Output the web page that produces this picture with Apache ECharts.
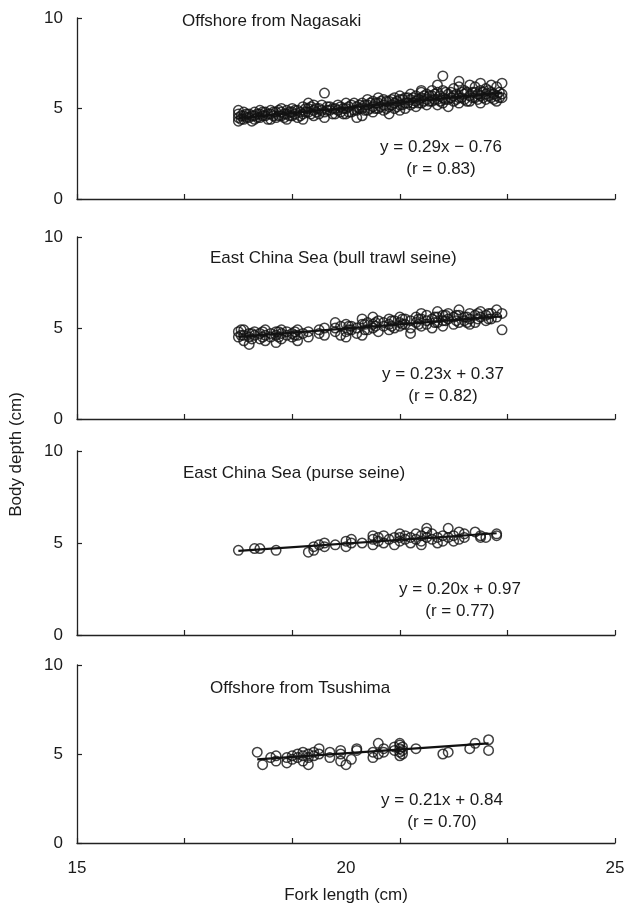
<!DOCTYPE html>
<html>
<head>
<meta charset="utf-8">
<script src="https://cdn.jsdelivr.net/npm/echarts@6/dist/echarts.min.js"></script>
<style>
html,body{margin:0;padding:0;background:#fff;}
#chart{width:628px;height:909px;}
</style>
</head>
<body>
<div id="chart"></div>
<script>
// ---- Data ----
const panelTitles = ['Offshore from Nagasaki', 'East China Sea (bull trawl seine)', 'East China Sea (purse seine)', 'Offshore from Tsushima'];
const equations = ['y = 0.29x \u2212 0.76', 'y = 0.23x + 0.37', 'y = 0.20x + 0.97', 'y = 0.21x + 0.84'];
const rValues = ['(r = 0.83)', '(r = 0.82)', '(r = 0.77)', '(r = 0.70)'];
const slopes = [0.29, 0.23, 0.20, 0.21];
const intercepts = [-0.76, 0.37, 0.97, 0.84];
const xTickLabels = [15, 20, 25];
const yTickLabels = [0, 5, 10];

// Fork length values and body depths observed at each length
const nagasakiX = [18.0,18.05,18.1,18.15,18.2,18.25,18.3,18.35,18.4,18.45,18.5,18.55,18.6,18.65,18.7,18.75,18.8,18.85,18.9,18.95,19.0,19.05,19.1,19.15,19.2,19.25,19.3,19.35,19.4,19.45,19.5,19.55,19.6,19.65,19.7,19.75,19.8,19.85,19.9,19.95,20.0,20.05,20.1,20.15,20.2,20.25,20.3,20.35,20.4,20.45,20.5,20.55,20.6,20.65,20.7,20.75,20.8,20.85,20.9,20.95,21.0,21.05,21.1,21.15,21.2,21.25,21.3,21.35,21.4,21.45,21.5,21.55,21.6,21.65,21.7,21.75,21.8,21.85,21.9,21.95,22.0,22.05,22.1,22.15,22.2,22.25,22.3,22.35,22.4,22.45,22.5,22.55,22.6,22.65,22.7,22.75,22.8,22.85,22.9];
const nagasakiY = [[4.3,4.5,4.7,4.9],[4.4,4.6],[4.4,4.6,4.8],[4.5,4.7],[4.5,4.7],[4.3,4.6],[4.4,4.6,4.8],[4.5,4.7],[4.5,4.7,4.9],[4.6,4.8],[4.6,4.8],[4.4,4.7],[4.4,4.7,4.9],[4.6,4.8],[4.5,4.8],[4.6,4.9],[4.6,4.8,5.0],[4.5,4.7],[4.4,4.7,4.9],[4.6,4.8],[4.6,4.8,5.0],[4.7,4.9],[4.5,4.9],[4.6,4.8],[4.4,4.7,5.1],[4.8,5.0],[4.8,5.0,5.3],[4.7,5.1],[4.6,4.9,5.2],[4.8,5.0],[4.7,5.0],[4.9,5.2],[4.5,4.8,5.85],[4.9,5.1],[4.9,5.1],[4.7,5.0],[4.7,5.0],[4.9,5.2],[4.8,5.1],[4.7,5.0],[4.7,5.0,5.3],[4.8,5.1],[4.8,5.2],[4.9,5.3],[4.5,4.9,5.1],[5.0,5.2],[4.6,5.0,5.3],[4.9,5.2],[4.9,5.2,5.5],[5.0,5.3],[4.8,5.1,5.4],[5.0,5.3],[5.0,5.3,5.6],[5.1,5.4],[4.9,5.2,5.5],[5.0,5.4],[4.7,5.1,5.4],[5.2,5.5],[5.0,5.3,5.6],[5.1,5.4],[4.9,5.2,5.5,5.7],[5.2,5.5],[5.0,5.3,5.6],[5.3,5.6],[5.2,5.5,5.8],[5.3,5.6],[5.1,5.4,5.7],[5.3,5.5],[5.3,5.6,5.9,6.0],[5.4,5.7],[5.2,5.5,5.8],[5.4,5.7],[5.4,5.7,6.0],[5.5,5.8],[5.2,5.5,5.9,6.3],[5.4,5.7],[5.3,5.6,6.0,6.8],[5.5,5.9],[5.1,5.5,5.8],[5.6,5.9],[5.4,5.7,6.1],[5.5,5.8],[5.3,5.6,6.2,6.5],[5.6,5.9],[5.5,5.8,6.0],[5.4,5.9],[5.4,5.7,6.3],[5.6,5.9],[5.6,5.9,6.2],[5.5,5.8],[5.3,5.7,6.0,6.4],[5.6,5.9],[5.5,5.8,6.1],[5.7,6.0],[5.6,5.9,6.3],[5.5,5.8],[5.4,5.7,6.2],[5.6,5.9],[5.6,5.8,6.4]];

const bullTrawlX = [18.0,18.05,18.1,18.2,18.25,18.3,18.4,18.45,18.5,18.6,18.7,18.75,18.8,18.9,19.0,19.05,19.1,19.2,19.3,19.5,19.6,19.8,19.9,20.0,20.05,20.1,20.2,20.3,20.35,20.4,20.5,20.55,20.6,20.7,20.8,20.85,20.9,21.0,21.05,21.1,21.2,21.3,21.35,21.4,21.5,21.6,21.65,21.7,21.8,21.85,21.9,22.0,22.05,22.1,22.2,22.25,22.3,22.4,22.45,22.5,22.6,22.65,22.7,22.8,22.9];
const bullTrawlY = [[4.5,4.8],[4.6,4.9],[4.3,4.6,4.9],[4.1,4.5,4.7],[4.4,4.7],[4.6,4.8],[4.4,4.7],[4.5,4.8],[4.3,4.6,4.9],[4.5,4.7],[4.2,4.6,4.8],[4.5,4.8],[4.4,4.7,4.9],[4.6,4.8],[4.5,4.7],[4.6,4.8],[4.3,4.6,4.9],[4.7],[4.5,4.8],[4.7,4.9],[4.6,5.0],[4.8,5.0,5.3],[4.6,5.1],[4.5,4.8,5.2],[4.9,5.1],[4.9,5.1],[4.7,5.0],[4.6,5.2,5.5],[4.9,5.2],[4.9,5.3],[5.0,5.2,5.6],[5.1,5.3],[4.8,5.4],[5.1,5.3],[4.9,5.2,5.5],[5.1,5.4],[5.0,5.4],[5.1,5.3,5.6],[5.2,5.5],[5.2,5.5],[4.7,5.0,5.4],[5.3,5.6],[5.2,5.5],[5.1,5.5,5.8],[5.2,5.4,5.7],[5.0,5.5],[5.3,5.6],[5.3,5.6,5.9],[5.1,5.4,5.7],[5.4,5.7],[5.5,5.8],[5.2,5.6],[5.4,5.7],[5.3,5.7,6.0],[5.4,5.6],[5.3,5.6],[5.2,5.5,5.8],[5.3,5.7],[5.5,5.8],[5.6,5.9],[5.4,5.7],[5.5,5.8],[5.5,5.8],[5.6,6.0],[4.9,5.8]];

const purseX = [18.0,18.3,18.4,18.7,19.3,19.4,19.5,19.6,19.8,20.0,20.1,20.3,20.5,20.6,20.7,20.8,20.9,21.0,21.1,21.2,21.3,21.4,21.5,21.6,21.7,21.8,21.9,22.0,22.1,22.2,22.4,22.5,22.6,22.8];
const purseY = [[4.6],[4.7],[4.7],[4.6],[4.5],[4.6,4.8],[4.9],[4.8,5.0],[4.9],[4.8,5.1],[5.0,5.2],[5.0],[4.9,5.2,5.4],[5.1,5.3],[5.0,5.4],[5.2],[4.9,5.3],[5.1,5.3,5.5],[5.2,5.4],[5.0,5.3],[5.2,5.5],[4.9,5.1,5.4],[5.3,5.6,5.8],[5.2,5.5],[5.0,5.3],[5.1,5.4],[5.3,5.8],[5.1,5.4],[5.2,5.6],[5.3,5.5],[5.6],[5.3,5.4],[5.3],[5.4,5.5]];

const tsushimaX = [18.35,18.45,18.6,18.7,18.9,19.0,19.1,19.2,19.3,19.4,19.5,19.7,19.9,20.0,20.1,20.2,20.5,20.6,20.7,20.9,21.0,21.05,21.3,21.8,21.9,22.3,22.4,22.65];
const tsushimaY = [[5.1],[4.4],[4.8],[4.6,4.9],[4.5,4.8],[4.7,4.9],[4.8,5.0],[4.6,4.9,5.1],[4.4,4.8,5.0],[4.9,5.1],[5.0,5.3],[4.8,5.1],[4.6,5.0,5.2],[4.4],[4.7],[5.2,5.3],[4.8,5.1],[5.0,5.6],[5.1,5.3],[5.2,5.4],[4.9,5.1,5.3,5.5,5.6],[5.0,5.2,5.4],[5.3],[5.0],[5.1],[5.3],[5.6],[5.8,5.2]];

const panelX = [nagasakiX, bullTrawlX, purseX, tsushimaX];
const panelY = [nagasakiY, bullTrawlY, purseY, tsushimaY];

// ---- Layout ----
const gridTops = [18, 237, 451, 665];
const gridHeights = [181, 182, 184, 178];
const titlePos = [[177, 8], [205, 245], [178, 460], [205, 675]];
const eqPos = [[436, 131], [438, 358], [455, 573], [437, 784]];

const FONT = "'Liberation Sans', Arial, sans-serif";
const TXT = '#1a1a1a';

function pointsOf(xs, ys) {
  const out = [];
  xs.forEach((x, i) => ys[i].forEach(y => out.push([x, y])));
  return out;
}

const grids = [], xAxes = [], yAxes = [], series = [], titles = [];
for (let i = 0; i < 4; i++) {
  grids.push({left: 77, right: 13, top: gridTops[i], height: gridHeights[i]});
  const last = i === 3;
  xAxes.push({
    gridIndex: i, type: 'value', min: 15, max: 25, interval: 5, position: 'bottom',
    axisLine: {show: false}, axisTick: {show: false}, splitLine: {show: false},
    axisLabel: {show: last, fontSize: 17, color: TXT, fontFamily: FONT, margin: 17,
      formatter: v => xTickLabels.indexOf(v) >= 0 ? String(v) : ''},
    name: last ? 'Fork length (cm)' : '', nameLocation: 'middle', nameGap: 44,
    nameTextStyle: {fontSize: 17, color: TXT, fontFamily: FONT}
  });
  // tick axis: ticks every 2 cm from 15 to 25 (offset scale 0..10)
  xAxes.push({
    gridIndex: i, type: 'value', min: 0, max: 10, interval: 2, position: 'bottom',
    axisLine: {show: true, onZero: false, lineStyle: {color: '#222', width: 1.3}},
    axisTick: {show: true, inside: true, length: 5, lineStyle: {color: '#222', width: 1.2}},
    axisLabel: {show: false}, splitLine: {show: false}
  });
  yAxes.push({
    gridIndex: i, type: 'value', min: 0, max: 10, interval: 5,
    axisLine: {show: true, lineStyle: {color: '#222', width: 1.3}},
    axisTick: {show: true, inside: true, length: 5, lineStyle: {color: '#222', width: 1.2}},
    axisLabel: {fontSize: 17, color: TXT, fontFamily: FONT, margin: 14,
      formatter: v => yTickLabels.indexOf(v) >= 0 ? String(v) : ''},
    splitLine: {show: false}
  });
  series.push({
    type: 'scatter', xAxisIndex: i * 2, yAxisIndex: i,
    data: pointsOf(panelX[i], panelY[i]),
    symbol: 'circle', symbolSize: 9.5,
    itemStyle: {color: 'rgba(0,0,0,0)', borderColor: '#111', borderWidth: 1.5},
    silent: true, z: 3
  });
  const xs = panelX[i];
  const x0 = Math.min(...xs), x1 = Math.max(...xs);
  series.push({
    type: 'line', xAxisIndex: i * 2, yAxisIndex: i,
    data: [[x0, slopes[i] * x0 + intercepts[i]], [x1, slopes[i] * x1 + intercepts[i]]],
    showSymbol: false, lineStyle: {color: '#111', width: 2.2}, silent: true, z: 4
  });
  titles.push({text: panelTitles[i], left: titlePos[i][0], top: titlePos[i][1],
    textStyle: {fontSize: 17, fontWeight: 'normal', color: TXT, fontFamily: FONT}});
  titles.push({text: equations[i] + '\n' + rValues[i], left: eqPos[i][0], top: eqPos[i][1], textAlign: 'center',
    textStyle: {fontSize: 17, fontWeight: 'normal', color: TXT, fontFamily: FONT, lineHeight: 22, align: 'center'}});
}

const chart = echarts.init(document.getElementById('chart'), null, {renderer: 'canvas'});
chart.setOption({
  animation: false,
  backgroundColor: '#fff',
  title: titles,
  grid: grids,
  xAxis: xAxes,
  yAxis: yAxes,
  series: series,
  graphic: [{
    type: 'text', left: 8, top: 'middle', rotation: Math.PI / 2,
    style: {text: 'Body depth (cm)', fontSize: 17, fill: TXT, fontFamily: FONT}
  }]
});
</script>
</body>
</html>
